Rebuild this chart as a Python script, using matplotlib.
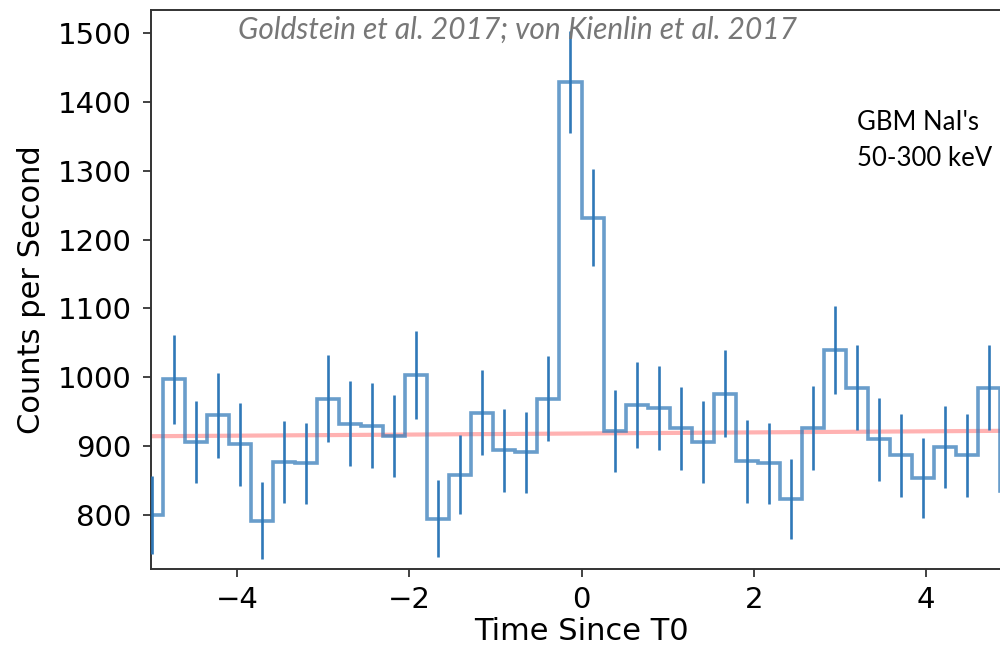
import numpy as np
import matplotlib
matplotlib.use("Agg")
import matplotlib.pyplot as plt

# bins de 0.256 s a partir de -5.12 s
t_start = -5.12
bin_width = 0.256

rate = [800, 997, 906, 945, 903, 792, 877, 875, 969, 933,
        930, 915, 1003, 795, 859, 949, 894, 891, 969, 1429,
        1232, 922, 960, 955, 926, 906, 976, 878, 875, 823,
        927, 1040, 985, 910, 887, 854, 899, 887, 985, 835]
rate_err = [57, 65, 60, 62, 60, 56, 60, 59, 63, 62,
            62, 60, 64, 56, 58, 61, 60, 59, 62, 74,
            70, 60, 62, 61, 60, 60, 63, 60, 59, 58,
            61, 64, 62, 60, 60, 58, 59, 60, 62, 57]

# ajuste do fundo (linha vermelha)
bg_time = [-5.0, 5.0]
bg_rate = [914.6, 922.5]

y_ticks = [800, 900, 1000, 1100, 1200, 1300, 1400, 1500]
x_ticks = [-4, -2, 0, 2, 4]

edges = t_start + bin_width * np.arange(len(rate) + 1)
centers = 0.5 * (edges[:-1] + edges[1:])

fig = plt.figure(figsize=(10, 6.55), dpi=100)
ax = fig.add_axes([0.151, 0.131, 0.861, 0.854])

ax.plot(bg_time, bg_rate, color="red", alpha=0.3, lw=3, zorder=1)
ax.stairs(rate, edges, baseline=None, color="#2f78b8", alpha=0.72, lw=2.6, zorder=2)
ax.errorbar(centers, rate, yerr=rate_err, fmt="none", ecolor="#2f78b8", elinewidth=1.9, zorder=3)

ax.set_xlim(-5, 5)
ax.set_ylim(721.6, 1533.4)
ax.set_xticks(x_ticks)
ax.set_yticks(y_ticks)
ax.tick_params(labelsize=21, length=6, width=1.2, color="#222222")
ax.tick_params(axis="x", pad=6)
ax.tick_params(axis="y", pad=8)
for s in ax.spines.values():
    s.set_linewidth(1.4)
    s.set_color("#333333")

ax.set_xlabel("Time Since T0", fontsize=22, labelpad=2)
ax.set_ylabel("Counts per Second", fontsize=22, labelpad=8)

fig.text(0.238, 0.9405, "Goldstein et al. 2017; von Kienlin et al. 2017",
         fontsize=21.5, style="italic", color="#777777", family="Lato")
fig.text(0.857, 1 - 130 / 655, "GBM NaI's", fontsize=18.5, color="black", family="Lato")
fig.text(0.857, 1 - 166 / 655, "50-300 keV", fontsize=18.5, color="black", family="Lato")

plt.savefig("out.png", dpi=100)
